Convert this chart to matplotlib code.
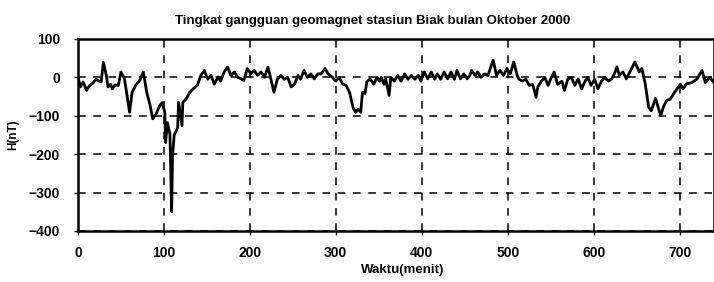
import matplotlib
matplotlib.use("Agg")
import matplotlib.pyplot as plt

# waktu (menit) and H (nT)
waktu = [0, 3, 6, 10, 14, 17, 21, 23, 27, 29.5, 33, 35, 38, 40, 43, 47, 50, 54, 58, 60,
         63, 67, 72, 76, 80, 84, 87, 91, 95, 98, 101, 102, 104, 107, 109, 110, 112, 116, 117, 121,
         122, 126, 130, 135, 139, 143, 147, 151, 155, 158.5, 163, 166, 170, 174, 178, 182, 186, 190, 193, 197,
         201, 205, 209, 213, 217, 221, 224, 228, 232, 236, 240, 244, 248, 252, 256, 259, 263, 267, 271, 275,
         279, 283, 287.5, 291, 296, 300, 304, 308, 312, 316, 320, 323, 326, 329, 331, 334, 336, 340, 344, 348,
         351, 353, 356, 358, 362, 364, 368, 372, 376, 380, 384, 388, 392, 396, 399, 403, 407, 411, 415, 418,
         422, 426, 430, 434, 438, 441, 445, 449, 453, 456, 458, 462, 465, 469, 473, 477, 483, 487, 491, 495,
         499, 503, 507, 511, 513, 517, 521, 525, 529, 533, 535, 539, 543, 547, 550, 554, 558, 563, 566, 570,
         574, 578, 582, 586, 590, 593, 597, 601, 605, 609, 613, 617, 621, 625, 627, 630, 634, 638, 641, 645,
         648, 653, 656, 660, 664, 667, 672, 678, 681, 685, 689, 693, 697, 701, 704, 708, 714, 720, 726, 730,
         735, 740]
H = [0, -25, -12, -34, -20, -16, -5, -8, -12, 39, 5, -25, -18, -30, -20, -21, 14, -3, -60, -91,
     -39, -21, -8, 14, -39, -74, -108, -95, -74, -66, -91, -170, -118, -148, -350, -205, -150, -131, -65, -126,
     -65, -56, -39, -28, -20, 5, 18, -5, 5, -18, 1, -10, 14, 27, 5, 14, 0, -4, -8, 23,
     10, 18, 5, 14, 0, 27, 0, -39, -5, 5, -5, 0, -25, -18, 5, -5, 18, 0, 9, -4,
     9, 9, 23, 9, 0, -10, 0, -18, -21, -39, -78, -91, -83, -91, -39, -42, -12, -4, -18, 0,
     -10, 0, -18, -4, -47, 0, -10, 5, -10, 9, -5, 5, -5, 5, -10, 14, -4, 14, -5, 9,
     -5, 14, -4, 14, -5, 18, -4, 9, -4, 5, 18, 5, 14, 0, 9, 5, 45, 5, 18, 5,
     23, 9, 40, 5, -5, -10, -5, -21, -18, -52, -25, -10, 0, -21, -4, 14, -18, -10, -34, -5,
     0, -21, -4, -30, -10, 0, -21, -5, -30, -10, 0, -10, -4, 14, 27, 5, 14, -4, 9, 27,
     40, 14, 23, -17, -78, -87, -55, -100, -78, -60, -57, -43, -30, -18, -30, -17, -14, -5, 18, -14,
     0, -14]

x_ticks = [0, 100, 200, 300, 400, 500, 600, 700]
y_ticks = [100, 0, -100, -200, -300, -400]

plt.rcParams['font.family'] = ['Liberation Sans', 'DejaVu Sans']
plt.rcParams['font.weight'] = 'bold'

fig = plt.figure(figsize=(7.14, 2.82), dpi=100)
ax = fig.add_axes([0.1092, 0.181, 0.8908, 0.681])

ax.plot(waktu, H, color='black', linewidth=2)

ax.set_xlim(0, 740)
ax.set_ylim(-400, 100)
ax.set_xticks(x_ticks)
ax.set_yticks(y_ticks)
ax.tick_params(axis='both', labelsize=10, length=3, width=1, direction='out')
ax.tick_params(axis='x', pad=8)
ax.tick_params(axis='y', pad=10)
for lbl in ax.get_xticklabels() + ax.get_yticklabels():
    lbl.set_fontweight('bold')

ax.grid(True, color='black', linestyle=(0, (5, 5)), linewidth=1.1)
for s in ax.spines.values():
    s.set_linewidth(1.8)

ax.set_title("Tingkat gangguan geomagnet stasiun Biak bulan Oktober 2000",
             fontsize=9.5, fontweight='bold', pad=11, x=0.464)
ax.set_xlabel("Waktu(menit)", fontsize=9.5, fontweight='bold', labelpad=3, x=0.511)
ax.set_ylabel("H(nT)", fontsize=8.5, fontweight='bold', labelpad=7)

fig.savefig("out.png", dpi=100)
